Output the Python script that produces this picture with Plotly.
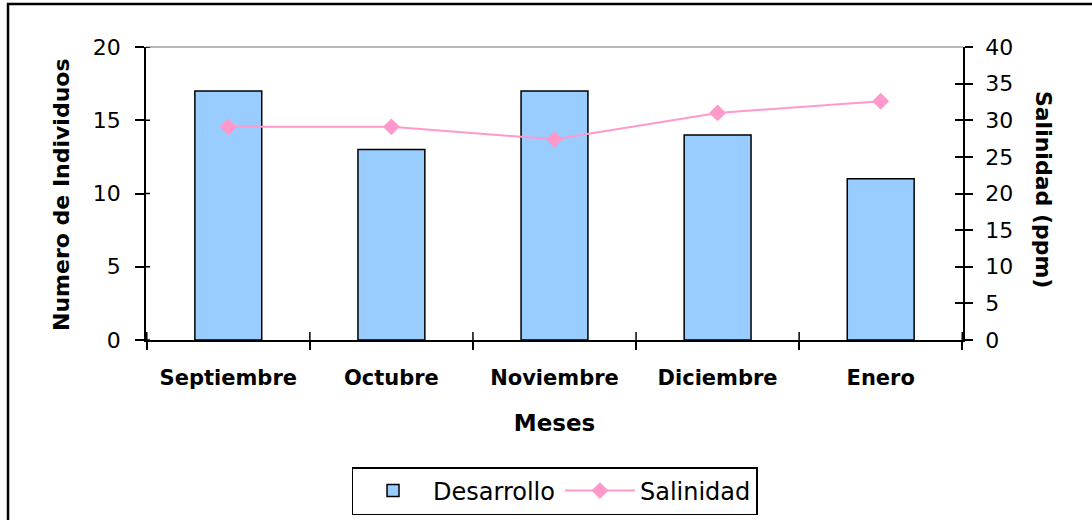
import plotly.graph_objects as go

meses = ["Septiembre", "Octubre", "Noviembre", "Diciembre", "Enero"]
desarrollo = [17, 13, 17, 14, 11]
salinidad = [29.1, 29.1, 27.4, 31.0, 32.6]

FONT = "DejaVu Sans, Verdana, sans-serif"

fig = go.Figure()

fig.add_trace(go.Bar(
    x=meses, y=desarrollo, name="Desarrollo",
    marker=dict(color="#99CCFF", line=dict(color="black", width=1.5)),
    width=0.41, yaxis="y",
))
fig.add_trace(go.Scatter(
    x=meses, y=salinidad, name="Salinidad", mode="lines+markers",
    line=dict(color="#FF99CC", width=2),
    marker=dict(symbol="diamond", size=13, color="#FF99CC"),
    yaxis="y2",
))

fig.update_layout(
    width=1092, height=520,
    margin=dict(l=146, r=129, t=47, b=180, autoexpand=False),
    paper_bgcolor="white", plot_bgcolor="white",
    font=dict(family=FONT, color="black"),
    showlegend=True,
    legend=dict(
        orientation="h", x=0.5, xanchor="center",
        yref="container", y=1 - 467 / 520, yanchor="top",
        bordercolor="black", borderwidth=1.5,
        font=dict(size=24, family=FONT, color="black"), itemwidth=70,
        traceorder="normal",
    ),
    xaxis=dict(
        type="category", tickson="boundaries", ticks="outside", ticklen=8,
        tickwidth=1.5, tickcolor="black", automargin=False,
        showline=True, linecolor="black", linewidth=1.5,
        tickfont=dict(size=21, family=FONT, weight="bold", color="black"),
        ticklabelstandoff=18,
        showgrid=False,
        title=dict(text="Meses", font=dict(size=23, family=FONT, weight="bold", color="black"),
                   standoff=26),
    ),
    yaxis=dict(
        range=[0, 20], dtick=5, ticks="outside", ticklen=9, tickwidth=1.5,
        tickcolor="black", showline=True, linecolor="black", linewidth=1.5,
        showgrid=False, zeroline=False, automargin=False,
        tickfont=dict(size=22, family=FONT, color="black"), ticklabelstandoff=10,
    ),
    yaxis2=dict(
        range=[0, 40], dtick=5, overlaying="y", side="right",
        ticks="outside", ticklen=8, tickwidth=1.5, tickcolor="black",
        showline=True, linecolor="black", linewidth=1.5,
        showgrid=False, zeroline=False, automargin=False,
        tickfont=dict(size=22, family=FONT, color="black"), ticklabelstandoff=8,
    ),
    yaxis3=dict(
        range=[0, 40], dtick=5, overlaying="y", side="right",
        ticks="inside", ticklen=8, tickwidth=1.5, tickcolor="black",
        showticklabels=False, showline=False, showgrid=False, zeroline=False,
        automargin=False,
    ),
    annotations=[
        dict(text="<b>Numero de Individuos</b>", xref="paper", yref="paper",
             x=-0.1028, y=0.495, xanchor="center", yanchor="middle",
             textangle=-90, showarrow=False,
             font=dict(size=22, family=FONT, color="black")),
        dict(text="<b>Salinidad (ppm)</b>", xref="paper", yref="paper",
             x=1.098, y=0.512, xanchor="center", yanchor="middle",
             textangle=90, showarrow=False,
             font=dict(size=22, family=FONT, color="black")),
    ],
    shapes=[
        # outer frame of the chart area
        dict(type="rect", xref="paper", yref="paper",
             x0=-0.1689, x1=2, y0=-2, y1=1.1468,
             line=dict(color="black", width=2.5), layer="below"),
        # top border of the plot area
        dict(type="line", xref="paper", yref="paper",
             x0=0, x1=1, y0=1, y1=1, line=dict(color="#A0A0A0", width=1.5)),
        # inward halves of the category boundary ticks
        *[dict(type="line", xref="x", yref="paper",
               x0=i - 0.5, x1=i - 0.5, y0=0, y1=0.027,
               line=dict(color="black", width=1.5)) for i in range(len(meses) + 1)],
        # inward halves of the left axis ticks
        *[dict(type="line", xref="paper", yref="y",
               x0=0, x1=0.005, y0=v, y1=v,
               line=dict(color="black", width=1.5)) for v in [0, 5, 10, 15, 20]],
    ],
)

# invisible trace carrying the inward ticks of the secondary axis
fig.add_trace(go.Scatter(x=[meses[0]], y=[0], yaxis="y3", mode="markers",
                         marker=dict(opacity=0), showlegend=False, hoverinfo="skip"))

fig.write_html("out.html")
